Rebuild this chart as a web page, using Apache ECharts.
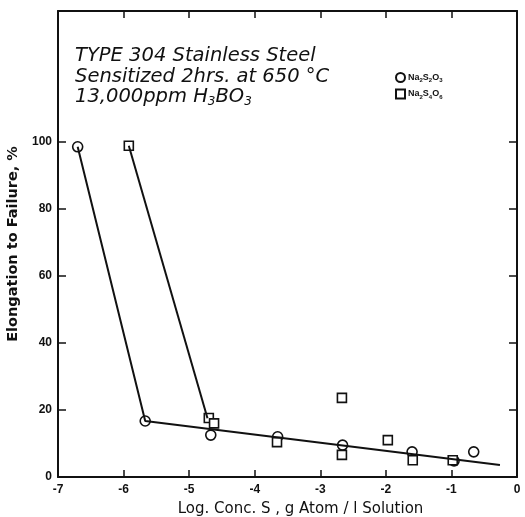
<!DOCTYPE html>
<html>
<head>
<meta charset="utf-8">
<script src="https://cdn.jsdelivr.net/npm/echarts@6/dist/echarts.min.js"></script>
<style>
  html, body { margin: 0; padding: 0; background: #fff; }
  #chart { width: 525px; height: 517px; }
</style>
</head>
<body>
<div id="chart"></div>
<script>
// Na2S2O3 points (circles)
const thioX = [-6.7, -5.67, -4.67, -3.65, -2.66, -1.6, -0.96, -0.66];
const thioY = [98.5, 16.7, 12.5, 12, 9.5, 7.5, 4.8, 7.5];
// Na2S4O6 points (squares)
const tetraX = [-5.92, -4.7, -4.62, -3.66, -2.67, -2.67, -1.97, -1.59, -0.98];
const tetraY = [98.8, 17.6, 16, 10.4, 6.6, 23.6, 11, 5, 5];
// hand drawn curves
const curveAX = [-6.7, -5.67, -0.26];
const curveAY = [98.5, 16.7, 3.6];
const curveBX = [-5.92, -4.72];
const curveBY = [98.8, 17.5];

const xLabels = [-7, -6, -5, -4, -3, -2, -1, 0];
const xTicks = [-6, -5, -4, -3, -2, -1];
const yLabels = [0, 20, 40, 60, 80, 100];
const yTicks = [20, 40, 60, 80, 100];

function pairs(xs, ys) {
    return xs.map((x, i) => [x, ys[i]]);
}

const ink = '#111';
const font = 'Liberation Sans, Arial, sans-serif';
const wide = 'DejaVu Sans, sans-serif';

function xAxisCfg(pos, showLabels) {
    return {
        type: 'value', position: pos, min: -7, max: 0, interval: 1,
        axisLine: {show: true, onZero: false, lineStyle: {color: ink, width: 2}},
        axisTick: {show: true, inside: true, length: 7, customValues: xTicks, lineStyle: {color: ink, width: 1.5}},
        axisLabel: {show: showLabels, customValues: xLabels, color: ink, fontFamily: font, fontWeight: 'bold', fontSize: 12, margin: 7},
        splitLine: {show: false}
    };
}

function yAxisCfg(pos, showLabels) {
    return {
        type: 'value', position: pos, min: 0, max: 139, interval: 20,
        axisLine: {show: true, onZero: false, lineStyle: {color: ink, width: 2}},
        axisTick: {show: true, inside: true, length: 8, customValues: yTicks, lineStyle: {color: ink, width: 1.5}},
        axisLabel: {show: showLabels, customValues: yLabels, color: ink, fontFamily: font, fontWeight: 'bold', fontSize: 12, margin: 6},
        splitLine: {show: false}
    };
}

const sub = {fontSize: 6, fontWeight: 'bold', fontFamily: font, color: ink, verticalAlign: 'bottom', lineHeight: 9};
const norm = {fontSize: 9, fontWeight: 'bold', fontFamily: font, color: ink, lineHeight: 12};

const chart = echarts.init(document.getElementById('chart'));
chart.setOption({
    animation: false,
    backgroundColor: '#fff',
    grid: {left: 58, right: 8, top: 11, bottom: 40, containLabel: false, outerBoundsMode: 'none'},
    title: {
        left: 70, top: 41,
        text: 'TYPE 304 Stainless Steel\nSensitized 2hrs. at 650 °C\n13,000ppm H{s|3}BO{s|3}',
        textStyle: {
            fontFamily: wide, fontStyle: 'italic', fontWeight: 'normal', fontSize: 19.5, lineHeight: 20.5, color: ink,
            rich: {s: {fontFamily: wide, fontStyle: 'italic', fontSize: 12, verticalAlign: 'bottom', lineHeight: 16, color: ink}}
        }
    },
    legend: {
        orient: 'vertical', left: 390, top: 67, itemWidth: 9, itemHeight: 9, itemGap: 5,
        data: ['Na2S2O3', 'Na2S4O6'],
        formatter: function (name) {
            return name === 'Na2S2O3'
                ? '{n|Na}{s|2}{n|S}{s|2}{n|O}{s|3}'
                : '{n|Na}{s|2}{n|S}{s|4}{n|O}{s|6}';
        },
        textStyle: {rich: {n: norm, s: sub}, padding: [0, 0, 0, -2]}
    },
    xAxis: [
        Object.assign(xAxisCfg('bottom', true), {
            name: 'Log. Conc. S , g Atom / l Solution', nameLocation: 'middle', nameGap: 25,
            nameTextStyle: {fontFamily: wide, fontSize: 15, color: ink, padding: [0, 0, 0, 26]}
        }),
        xAxisCfg('top', false)
    ],
    yAxis: [
        Object.assign(yAxisCfg('left', true), {
            name: 'Elongation to Failure, %', nameLocation: 'middle', nameGap: 30,
            nameTextStyle: {fontFamily: wide, fontSize: 14.5, fontWeight: 'bold', color: ink}
        }),
        yAxisCfg('right', false)
    ],
    series: [
        {
            name: 'curveA', type: 'line', data: pairs(curveAX, curveAY), symbol: 'none',
            lineStyle: {color: ink, width: 2}, silent: true
        },
        {
            name: 'curveB', type: 'line', data: pairs(curveBX, curveBY), symbol: 'none',
            lineStyle: {color: ink, width: 2}, silent: true
        },
        {
            name: 'Na2S2O3', type: 'scatter', data: pairs(thioX, thioY),
            symbol: 'circle', symbolSize: 10,
            itemStyle: {color: '#fff', borderColor: ink, borderWidth: 1.6, opacity: 1}
        },
        {
            name: 'Na2S4O6', type: 'scatter', data: pairs(tetraX, tetraY),
            symbol: 'rect', symbolSize: 9,
            itemStyle: {color: '#fff', borderColor: ink, borderWidth: 1.6, opacity: 1}
        }
    ]
});
</script>
</body>
</html>
